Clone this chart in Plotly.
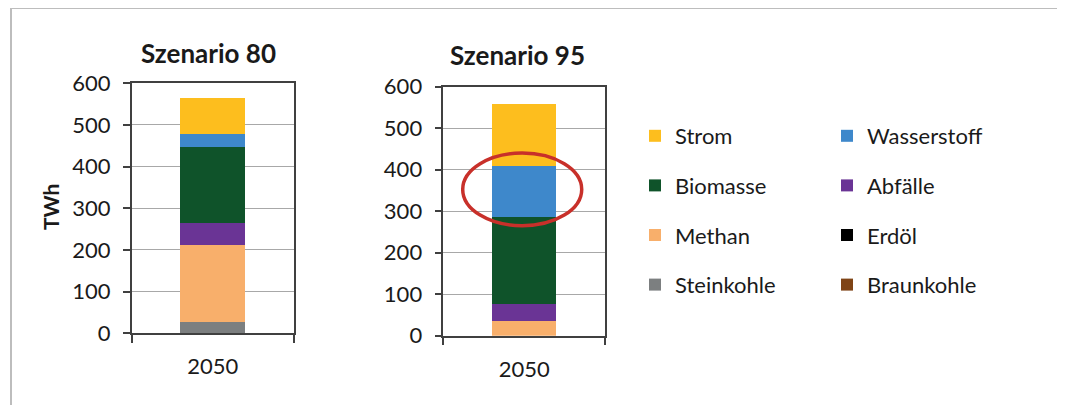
import plotly.graph_objects as go

W, H = 1065, 405
OFF = 8  # page body margin of the browser

categories = ["2050"]
series = ["Steinkohle", "Braunkohle", "Erdöl", "Methan", "Abfälle", "Biomasse", "Wasserstoff", "Strom"]
values_80 = [26, 0, 0, 186, 53, 183, 31, 86]
values_95 = [0, 0, 0, 35, 41, 209, 125, 148]
colors = ["#7C7F80", "#7F4416", "#000000", "#F8AF6B", "#6A3495", "#0F532A", "#3E88CB", "#FDBE1E"]
legend_col2 = {"Braunkohle", "Erdöl", "Abfälle", "Wasserstoff"}
legend_rank = {"Strom": 1, "Wasserstoff": 1, "Biomasse": 2, "Abfälle": 2,
               "Methan": 3, "Erdöl": 3, "Steinkohle": 4, "Braunkohle": 4}
y_ticks = [0, 100, 200, 300, 400, 500, 600]

FONT = "Lato"
TXT = "#1a1a1a"

def px(x):
    return (x - OFF) / W

def py(y):
    return 1 - (y - OFF) / H

fig = go.Figure()

for name, v80, v95, c in zip(series, values_80, values_95, colors):
    lg = "legend2" if name in legend_col2 else "legend"
    fig.add_trace(go.Bar(x=categories, y=[v80], name=name, marker_color=c,
                         marker_line_width=0, xaxis="x", yaxis="y",
                         legend=lg, legendgroup=name, legendrank=legend_rank[name],
                         showlegend=True))
    fig.add_trace(go.Bar(x=categories, y=[v95], name=name, marker_color=c,
                         marker_line_width=0, xaxis="x2", yaxis="y2",
                         legend=lg, legendgroup=name, legendrank=legend_rank[name],
                         showlegend=False))

axis_common = dict(showline=True, linecolor="#404040", linewidth=1.5, mirror=True,
                   tickfont=dict(family=FONT, size=22, color=TXT))
xcommon = dict(axis_common, ticks="outside", tickson="boundaries", ticklen=8,
               tickcolor="#404040", tickwidth=1.5, ticklabelstandoff=13, fixedrange=True)
ycommon = dict(axis_common, range=[0, 600], tickvals=y_ticks, ticks="outside", ticklen=7,
               tickcolor="#404040", tickwidth=1.5, showgrid=True, gridcolor="#A8A8A8",
               gridwidth=1, ticklabelstandoff=8, zeroline=False, fixedrange=True)

fig.update_layout(
    width=W, height=H,
    margin=dict(l=0, r=0, t=0, b=0, pad=0, autoexpand=False),
    paper_bgcolor="white", plot_bgcolor="white",
    barmode="stack", bargap=0.6,
    font=dict(family=FONT, color=TXT),
    xaxis=dict(xcommon, domain=[px(131.7), px(294)]),
    yaxis=dict(ycommon, domain=[py(333.3), py(83.3)]),
    xaxis2=dict(xcommon, domain=[px(443.3), px(605)], anchor="y2"),
    yaxis2=dict(ycommon, domain=[py(335.7), py(86.7)], anchor="x2"),
    legend=dict(x=px(635), y=py(115), xanchor="left", yanchor="top",
                traceorder="grouped", tracegroupgap=18,
                font=dict(family=FONT, size=22, color=TXT), bgcolor="rgba(0,0,0,0)"),
    legend2=dict(x=px(827), y=py(115), xanchor="left", yanchor="top",
                 traceorder="grouped", tracegroupgap=18,
                 font=dict(family=FONT, size=22, color=TXT), bgcolor="rgba(0,0,0,0)"),
    showlegend=True,
)

fig.add_annotation(text="<b>Szenario 80</b>", x=px(208), y=py(53), xref="paper", yref="paper",
                   xanchor="center", yanchor="middle",
                   showarrow=False, font=dict(family=FONT, size=26, color=TXT))
fig.add_annotation(text="<b>Szenario 95</b>", x=px(518), y=py(55), xref="paper", yref="paper",
                   xanchor="center", yanchor="middle",
                   showarrow=False, font=dict(family=FONT, size=26, color=TXT))
fig.add_annotation(text="<b>TWh</b>", x=px(50), y=py(207), xref="paper", yref="paper",
                   xanchor="center", yanchor="middle",
                   showarrow=False, textangle=-90, font=dict(family=FONT, size=21, color=TXT))

# outer frame
fig.add_shape(type="line", xref="paper", yref="paper", x0=px(11), x1=1.05, y0=py(8), y1=py(8),
              line=dict(color="#BDBDBD", width=2))
fig.add_shape(type="line", xref="paper", yref="paper", x0=px(11), x1=px(11), y0=py(8), y1=-0.05,
              line=dict(color="#BDBDBD", width=2))

# red highlight ellipse
fig.add_shape(type="circle", xref="x2 domain", yref="y2", x0=0.12, x1=0.856, y0=265, y1=440,
              line=dict(color="#C8302A", width=3.5))

fig.write_html("out.html")
